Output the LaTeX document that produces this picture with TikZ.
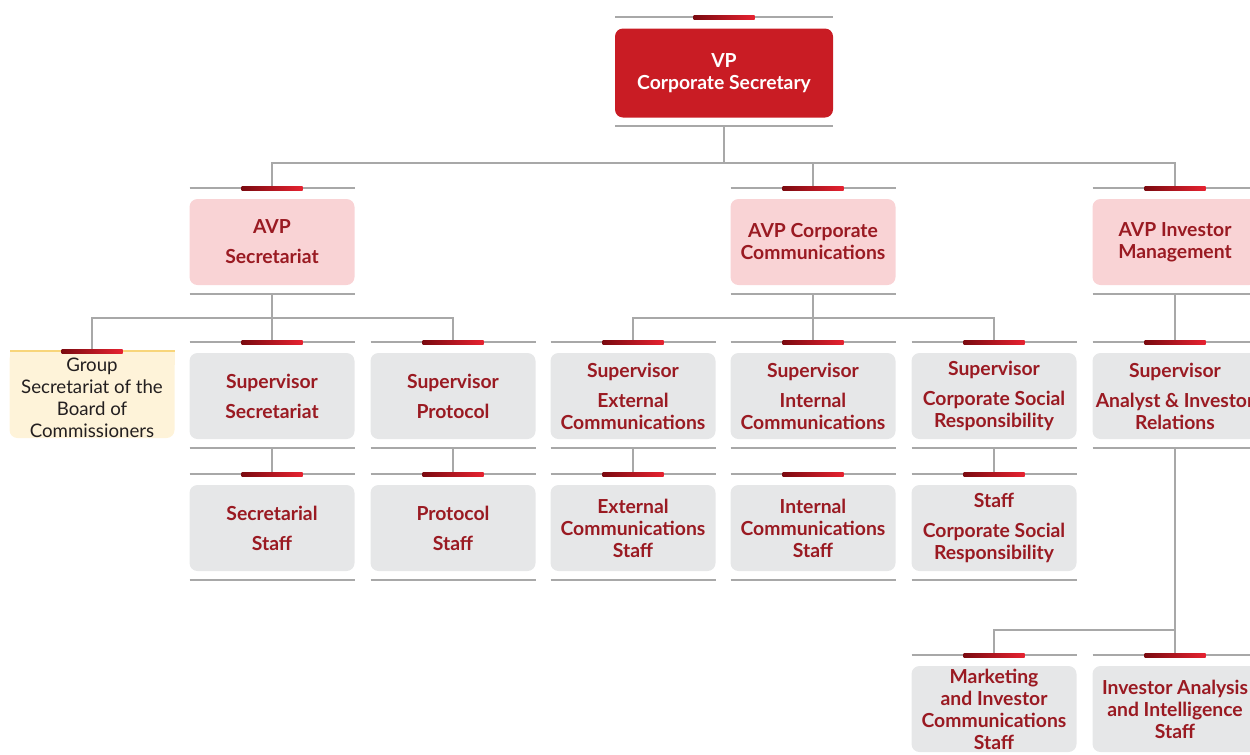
\documentclass[tikz,border=0pt]{standalone}
\usepackage{fontspec}
\setmainfont{Lato}
\definecolor{vpred}{HTML}{C91C24}
\definecolor{pinkfill}{HTML}{F9D3D5}
\definecolor{grayfill}{HTML}{E6E7E8}
\definecolor{txtred}{HTML}{9A1A22}
\definecolor{rulegray}{HTML}{A8A8A8}
\definecolor{bardark}{HTML}{7B0A10}
\definecolor{barlight}{HTML}{E62230}
\definecolor{groupfill}{HTML}{FEF3D9}
\definecolor{groupline}{HTML}{F8D57A}
\definecolor{grouptxt}{HTML}{231F20}
\pgfdeclarelayer{bg}
\pgfsetlayers{bg,main}
\tikzset{
  rule/.style={draw=rulegray,line width=0.9pt},
  conn/.style={draw=rulegray,line width=0.9pt},
  bar/.style={left color=bardark,right color=barlight},
  basebox/.style={rectangle,rounded corners=6pt,minimum width=123.75pt,minimum height=64.5pt,inner sep=0pt,align=center,
    font=\fontsize{14.5pt}{16.5pt}\selectfont\bfseries},
  avpbox/.style={basebox,fill=pinkfill,text=txtred},
  graybox/.style={basebox,fill=grayfill,text=txtred},
  groupbox/.style={basebox,fill=groupfill,text=grouptxt,font=\fontsize{14pt}{16.5pt}\selectfont},
  vpbox/.style={basebox,fill=vpred,text=white,minimum width=163.5pt,minimum height=66.75pt},
}
\newcommand\orgunit[5]{%
  \draw[rule] (#2-82.5,#3) -- (#2+82.5,#3);
  \coordinate (#1-top) at (#2,#3);
  \node[#4] (#1) at (#2,#3+54) {#5};
  \draw[rule] (#2-82.5,#3+106) -- (#2+82.5,#3+106);
  \coordinate (#1-bot) at (#2,#3+106);
  \shade[bar] (#2-30.5,#3-2) rectangle (#2+30.5,#3+2);
}
\begin{document}
\begin{tikzpicture}[x=0.75pt,y=-0.75pt]
\useasboundingbox (0,0) rectangle (1250,754);
\clip (0,0) rectangle (1250,754);
% VP
\draw[rule] (615,17) -- (833,17);
\coordinate (vp-top) at (724,17);
\node[vpbox] (vp) at (724,73) {VP\\Corporate Secretary};
\draw[rule] (615,126) -- (833,126);
\coordinate (vp-bot) at (724,126);
\shade[bar] (693.5,15) rectangle (754.5,19);
% AVP row
\orgunit{avp1}{272}{188}{avpbox}{AVP\\[6pt]Secretariat}
\orgunit{avp2}{813}{188}{avpbox}{AVP Corporate\\Communications}
\orgunit{avp3}{1175}{188}{avpbox}{AVP Investor\\Management}
% Group secretariat
\node[groupbox,rounded corners=6pt,minimum height=65.25pt] (grp) at (92,394.5) {};
\fill[groupfill] (10,351) rectangle (175,365);
\node[align=center,text=grouptxt,font=\fontsize{14pt}{16.5pt}\selectfont] (grptxt) at (92,398) {Group\\Secretariat of the\\Board of\\Commissioners};
\draw[draw=groupline,line width=1.2pt] (10,351) -- (175,351);
\coordinate (grp-top) at (92,351);
\shade[bar] (61.5,349) rectangle (122.5,353);
% Supervisor row
\orgunit{sup1}{272}{342}{graybox}{Supervisor\\[6pt]Secretariat}
\orgunit{sup2}{453}{342}{graybox}{Supervisor\\[6pt]Protocol}
\orgunit{sup3}{633}{342}{graybox}{Supervisor\\[6pt]External\\Communications}
\orgunit{sup4}{813}{342}{graybox}{Supervisor\\[6pt]Internal\\Communications}
\orgunit{sup5}{994}{342}{graybox}{Supervisor\\[6pt]Corporate Social\\Responsibility}
\orgunit{sup6}{1175}{342}{graybox}{Supervisor\\[6pt]Analyst \& Investor\\Relations}
% Staff row
\orgunit{stf1}{272}{474}{graybox}{Secretarial\\[6pt]Staff}
\orgunit{stf2}{453}{474}{graybox}{Protocol\\[6pt]Staff}
\orgunit{stf3}{633}{474}{graybox}{External\\Communications\\Staff}
\orgunit{stf4}{813}{474}{graybox}{Internal\\Communications\\Staff}
\orgunit{stf5}{994}{474}{graybox}{Staff\\[6pt]Corporate Social\\Responsibility}
% Bottom row
\orgunit{inv1}{994}{655}{graybox}{Marketing\\and Investor\\Communications\\Staff}
\orgunit{inv2}{1175}{655}{graybox}{Investor Analysis\\and Intelligence\\Staff}
% bus coordinates
\coordinate (bus0) at (724,163);
\coordinate (bus1) at (272,318);
\coordinate (bus2) at (813,318);
\coordinate (bus3) at (1175,630);
% connectors
\begin{pgfonlayer}{bg}
\draw[conn] (vp-bot) -- (bus0);
\draw[conn] (bus0) -| (avp1-top);
\draw[conn] (bus0) -| (avp2-top);
\draw[conn] (bus0) -| (avp3-top);
\draw[conn] (avp1-bot) -- (sup1-top);
\draw[conn] (bus1) -| (grp-top);
\draw[conn] (bus1) -| (sup2-top);
\draw[conn] (avp2-bot) -- (sup4-top);
\draw[conn] (bus2) -| (sup3-top);
\draw[conn] (bus2) -| (sup5-top);
\draw[conn] (avp3-bot) -- (sup6-top);
\draw[conn] (sup1-bot) -- (stf1-top);
\draw[conn] (sup2-bot) -- (stf2-top);
\draw[conn] (sup3-bot) -- (stf3-top);
\draw[conn] (sup5-bot) -- (stf5-top);
\draw[conn] (sup6-bot) -- (bus3);
\draw[conn] (bus3) -| (inv1-top);
\draw[conn] (bus3) -- (inv2-top);
\end{pgfonlayer}
\end{tikzpicture}
\end{document}
